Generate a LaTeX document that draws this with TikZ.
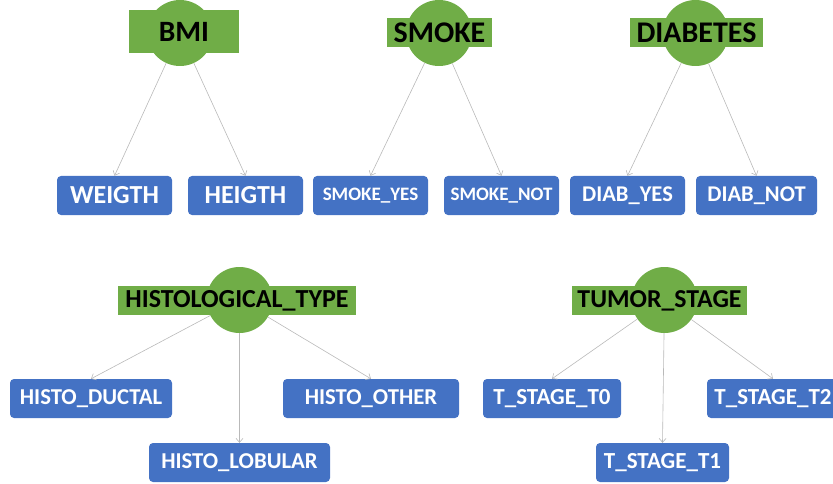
\documentclass[tikz,border=0pt]{standalone}
\usepackage{fontspec}
\setmainfont{Carlito}
\definecolor{catgreen}{RGB}{112, 173, 71}
\definecolor{valblue}{RGB}{68, 114, 196}
\definecolor{linkgray}{RGB}{185, 185, 185}
\usetikzlibrary{arrows.meta}

\begin{document}
\begin{tikzpicture}[x=1pt, y=-1pt,
  catnode/.style={circle, fill=catgreen, minimum size=66pt, inner sep=0pt},
  catlabel/.style={fill=catgreen, inner sep=0pt, minimum height=29pt, font=\bfseries\fontsize{#1pt}{#1pt}\selectfont},
  valbox/.style={fill=valblue, rounded corners=4pt, inner sep=0pt, minimum height=39pt, text=white, font=\bfseries\fontsize{#1pt}{#1pt}\selectfont},
  link/.style={draw=linkgray, line width=0.6pt, -{Straight Barb[length=4pt, width=7pt]}}]
  \useasboundingbox (0,0) rectangle (833,484);

  % Upper row: categories
  \node[catnode] (bmi) at (180, 33) {};
  \node[catnode] (smoke) at (439, 33) {};
  \node[catnode] (diab) at (695.5, 33) {};
  \node[catlabel=29.5, minimum width=110pt, minimum height=43pt] (bmi-lbl) at (184, 31.5) {BMI};
  \node[catlabel=30, minimum width=105pt] (smoke-lbl) at (439.5, 32.5) {SMOKE};
  \node[catlabel=30, minimum width=133pt] (diab-lbl) at (696.5, 32.5) {DIABETES};

  % Upper row: values
  \node[valbox=26, minimum width=115pt] (weigth) at (114.5, 195.5) {WEIGTH};
  \node[valbox=26, minimum width=115pt] (heigth) at (245.5, 195.5) {HEIGTH};
  \node[valbox=19, minimum width=115pt] (smoke-yes) at (370.5, 195.5) {SMOKE\_YES};
  \node[valbox=19, minimum width=115pt] (smoke-not) at (501.5, 195.5) {SMOKE\_NOT};
  \node[valbox=22.5, minimum width=115pt] (diab-yes) at (627.5, 195.5) {DIAB\_YES};
  \node[valbox=22.5, minimum width=121pt] (diab-not) at (756.5, 195.5) {DIAB\_NOT};

  \draw[link] (bmi) -- (weigth.north);
  \draw[link] (bmi) -- (heigth.north);
  \draw[link] (smoke) -- (smoke-yes.north);
  \draw[link] (smoke) -- (smoke-not.north);
  \draw[link] (diab) -- (diab-yes.north);
  \draw[link] (diab) -- (diab-not.north);

  % Lower row: categories
  \node[catnode] (histo) at (239.5, 300) {};
  \node[catnode] (tumor) at (664.5, 300) {};
  \node[catlabel=26, minimum width=238pt] (histo-lbl) at (237, 300.5) {HISTOLOGICAL\_TYPE};
  \node[catlabel=25.8, minimum width=175pt] (tumor-lbl) at (659.5, 300.5) {TUMOR\_STAGE};

  % Lower row: values
  \node[valbox=22.7, minimum width=162pt] (ductal) at (91, 398.5) {HISTO\_DUCTAL};
  \node[valbox=22.7, minimum width=176pt] (other) at (371, 398.5) {HISTO\_OTHER};
  \node[valbox=22.7, minimum width=181pt] (lobular) at (239.5, 462.5) {HISTO\_LOBULAR};
  \node[valbox=23, minimum width=138pt] (stage-t0) at (552, 398.5) {T\_STAGE\_T0};
  \node[valbox=23, minimum width=132pt] (stage-t2) at (773, 398.5) {T\_STAGE\_T2};
  \node[valbox=23, minimum width=133pt] (stage-t1) at (662.5, 462.5) {T\_STAGE\_T1};

  \draw[link] (histo) -- (ductal.north);
  \draw[link] (histo) -- (lobular.north);
  \draw[link] (histo) -- (other.north);
  \draw[link] (tumor) -- (stage-t0.north);
  \draw[link] (tumor) -- (stage-t1.north);
  \draw[link] (tumor) -- (stage-t2.north);
\end{tikzpicture}
\end{document}
